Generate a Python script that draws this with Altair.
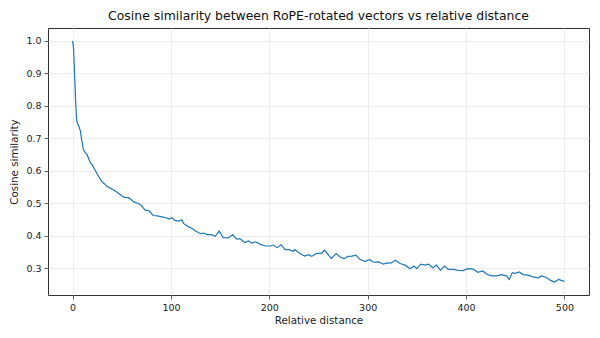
import altair as alt
import pandas as pd

distance = [0, 1, 2, 3, 4, 5, 6, 8, 9, 11, 13, 15, 18, 20, 22, 25, 28, 30, 33, 35, 38, 40, 43, 46,
            50, 53, 57, 60, 62, 66, 69, 72, 74, 77, 79, 82, 86, 91, 95, 98, 101, 104, 108, 111,
            113, 118, 121, 125, 130, 133, 137, 141, 145, 149, 151, 153, 158, 163, 165, 167, 170,
            175, 179, 182, 186, 191, 196, 201, 204, 208, 212, 216, 220, 224, 226, 231, 236, 240,
            243, 248, 253, 256, 259, 263, 268, 272, 276, 280, 284, 288, 292, 297, 302, 306, 311,
            316, 319, 324, 328, 333, 338, 343, 347, 350, 354, 358, 362, 366, 370, 374, 378, 382,
            387, 392, 397, 402, 407, 412, 417, 421, 426, 431, 436, 441, 444, 447, 450, 454, 458,
            463, 468, 473, 477, 482, 486, 490, 494, 499, 500]
similarity = [1.0, 0.977, 0.90, 0.82, 0.76, 0.745, 0.74, 0.722, 0.70, 0.665, 0.655, 0.648, 0.625,
              0.618, 0.607, 0.59, 0.575, 0.566, 0.558, 0.552, 0.547, 0.544, 0.538, 0.532, 0.522,
              0.518, 0.517, 0.51, 0.504, 0.50, 0.496, 0.485, 0.478, 0.478, 0.472, 0.462, 0.461,
              0.458, 0.455, 0.451, 0.455, 0.447, 0.445, 0.449, 0.437, 0.427, 0.423, 0.414, 0.406,
              0.408, 0.403, 0.403, 0.398, 0.414, 0.405, 0.394, 0.393, 0.403, 0.395, 0.389, 0.391,
              0.379, 0.384, 0.377, 0.381, 0.373, 0.368, 0.368, 0.371, 0.363, 0.372, 0.357, 0.357,
              0.352, 0.357, 0.345, 0.337, 0.341, 0.336, 0.345, 0.345, 0.355, 0.345, 0.329, 0.345,
              0.334, 0.329, 0.336, 0.337, 0.340, 0.327, 0.321, 0.326, 0.318, 0.319, 0.312, 0.315,
              0.316, 0.324, 0.314, 0.309, 0.298, 0.306, 0.298, 0.312, 0.309, 0.312, 0.301, 0.309,
              0.293, 0.306, 0.296, 0.296, 0.293, 0.292, 0.298, 0.297, 0.287, 0.291, 0.281, 0.276,
              0.276, 0.280, 0.276, 0.265, 0.286, 0.284, 0.288, 0.280, 0.278, 0.273, 0.270, 0.276,
              0.270, 0.262, 0.257, 0.265, 0.260, 0.260]

x_ticks = [0, 100, 200, 300, 400, 500]
y_ticks = [0.3, 0.4, 0.5, 0.6, 0.7, 0.8, 0.9, 1.0]

df = pd.DataFrame({"distance": distance, "similarity": similarity})

FONT = "DejaVu Sans"

chart = alt.Chart(df).mark_line(color="#1f77b4", strokeWidth=1.2).encode(
    x=alt.X("distance:Q", title="Relative distance",
            scale=alt.Scale(domain=[-25, 525], nice=False, zero=False),
            axis=alt.Axis(values=x_ticks, format="d")),
    y=alt.Y("similarity:Q", title="Cosine similarity",
            scale=alt.Scale(domain=[0.217, 1.04], nice=False, zero=False),
            axis=alt.Axis(values=y_ticks, format=".1f")),
).properties(
    width=541, height=267,
    title=alt.TitleParams("Cosine similarity between RoPE-rotated vectors vs relative distance",
                          font=FONT, fontSize=12.45, fontWeight="normal", color="#111",
                          offset=6),
    autosize=alt.AutoSizeParams(type="none"),
    padding={"left": 48, "top": 28, "right": 11, "bottom": 43},
).configure_view(
    stroke="#333", strokeWidth=1
).configure_axis(
    domain=False,
    grid=True, gridColor="#e8e8e8", gridWidth=0.8,
    tickColor="#333", tickSize=4, tickWidth=0.8,
    labelFont=FONT, labelFontSize=9.5, labelColor="#222", labelPadding=3,
    titleFont=FONT, titleFontSize=10.3, titleFontWeight="normal", titleColor="#222",
).configure_axisX(
    titlePadding=4
).configure_axisY(
    titlePadding=6
)

chart.save("out.html", embed_options={"renderer": "svg", "actions": False})
